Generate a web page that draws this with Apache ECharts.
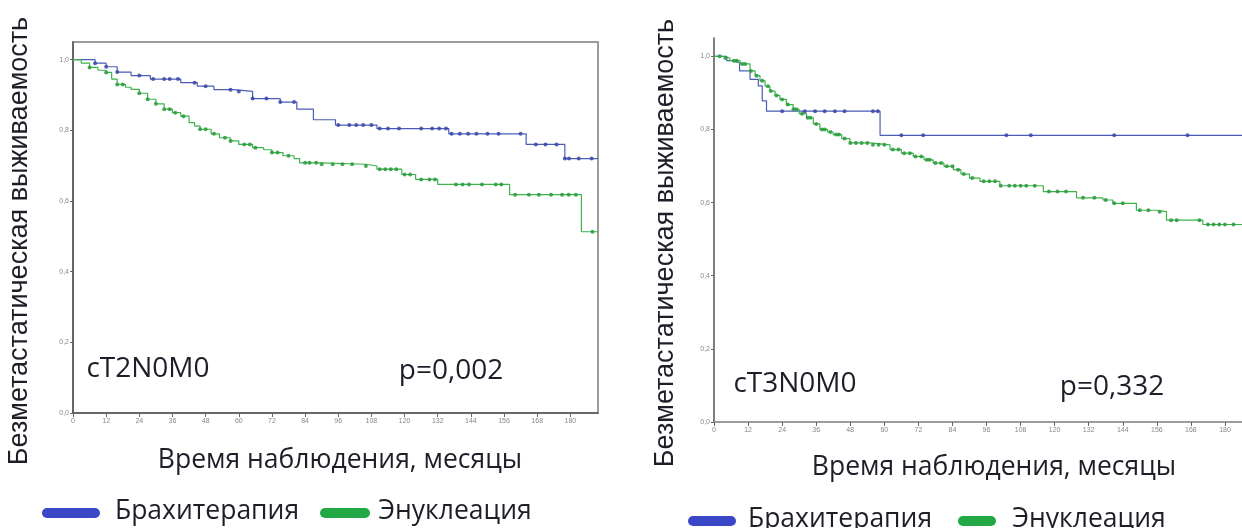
<!DOCTYPE html>
<html>
<head>
<meta charset="utf-8">
<script src="https://cdn.jsdelivr.net/npm/echarts@6/dist/echarts.min.js"></script>
<style>
html,body{margin:0;padding:0;background:#fff;}
#chart{width:1242px;height:528px;}
</style>
</head>
<body>
<div id="chart"></div>
<script>
// ---------- DATA ----------
const seriesNames = ['Брахитерапия', 'Энуклеация'];
const panelLabels = ['cT2N0M0', 'cT3N0M0'];
const pValues = ['p=0,002', 'p=0,332'];
const yTitle = 'Безметастатическая выживаемость';
const xTitle = 'Время наблюдения, месяцы';
const yTicks = [0, 0.2, 0.4, 0.6, 0.8, 1.0];
const xTickStep = 12;

// Panel 1 (cT2N0M0) – Brachytherapy
const t2BrachyT = [0, 8, 12, 16, 21, 28, 39, 45, 51, 58, 65, 75, 81, 87, 95, 110, 136, 164, 178, 190];
const t2BrachyS = [1.0, 0.99, 0.98, 0.965, 0.955, 0.945, 0.935, 0.925, 0.915, 0.91, 0.89, 0.88, 0.86, 0.83, 0.815, 0.805, 0.79, 0.76, 0.72, 0.72];
const t2BrachyCens = [8, 12, 16, 24, 29, 33, 35, 38, 44, 48, 57, 60, 65, 70, 75, 80, 96, 100, 102.5, 105, 108, 111, 114, 118, 126, 130, 132.5, 135, 137, 140, 143, 146, 150, 154, 162, 167.5, 171, 175, 178, 179.5, 183, 187.7];
// Panel 1 – Enucleation
const t2EnucT = [0, 3, 6, 9, 12, 14, 16, 19, 21, 24, 27, 30, 33, 36, 39, 42, 44, 46, 50, 53, 57, 60, 65, 69, 72, 76, 80, 82, 90, 106, 110, 119, 124, 132, 158, 184, 190];
const t2EnucS = [1.0, 0.99, 0.978, 0.97, 0.964, 0.945, 0.93, 0.922, 0.916, 0.905, 0.888, 0.875, 0.86, 0.85, 0.84, 0.822, 0.812, 0.803, 0.79, 0.779, 0.77, 0.76, 0.751, 0.745, 0.737, 0.728, 0.72, 0.708, 0.704, 0.699, 0.69, 0.675, 0.661, 0.647, 0.618, 0.513, 0.513];
const t2EnucCens = [6, 12, 16, 18, 24, 27, 30, 33, 35, 37, 40, 46, 48, 51, 55, 57, 62, 64, 66, 72, 74, 78, 84, 85.6, 88, 90, 94, 97.5, 101, 106, 111, 113, 115, 117, 120, 122, 126, 129, 131, 138.6, 141, 143.3, 148, 153, 155, 160, 165, 168.6, 173, 177, 179.4, 182, 188];

// Panel 2 (cT3N0M0) – Brachytherapy
const t3BrachyT = [0, 4.5, 6.2, 9, 12.7, 15.6, 17, 18.5, 58.5, 190];
const t3BrachyS = [1.0, 0.988, 0.983, 0.96, 0.937, 0.919, 0.878, 0.85, 0.784, 0.784];
const t3BrachyCens = [24, 32, 35.6, 39, 42.6, 46, 56, 57.7, 66, 73.7, 103, 111.6, 141, 166.8];
// Panel 2 – Enucleation
const t3EnucT = [0, 3, 5.6, 9.2, 12.7, 14.5, 16.2, 18, 19.7, 21.5, 23.2, 25.5, 27.9, 30, 32.6, 35, 37.3, 40, 42, 45, 47.9, 55, 62, 66, 70.2, 74, 77.2, 81, 84.3, 87, 90, 93.7, 100.7, 116, 127.7, 137, 140.5, 148.8, 155.9, 159.4, 172.2, 190];
const t3EnucS = [1.0, 0.995, 0.988, 0.979, 0.96, 0.947, 0.933, 0.918, 0.905, 0.893, 0.882, 0.868, 0.855, 0.843, 0.832, 0.815, 0.8, 0.793, 0.786, 0.775, 0.763, 0.758, 0.745, 0.735, 0.726, 0.717, 0.708, 0.699, 0.69, 0.678, 0.667, 0.658, 0.646, 0.63, 0.613, 0.607, 0.598, 0.579, 0.575, 0.552, 0.54, 0.54];
const t3EnucCens = [2, 4, 7, 8, 10, 11, 13, 15, 17, 19, 20, 22, 24, 26, 28, 29, 31, 33, 34, 36, 38, 39, 41, 43, 44, 46, 48, 50, 52, 54, 56, 58, 60, 63, 65, 67, 69, 71, 73, 75, 76, 78, 80, 82, 84, 86, 88, 91, 95, 97, 99, 101, 104, 106, 108, 110, 113, 118, 121, 124, 130, 134, 138, 141, 144, 150, 153, 157, 161, 163, 171, 174, 176, 178, 180, 183];

// ---------- BUILD ----------
const BLUE = '#4b5cb8', BLUE_D = '#3a48a8';
const GREEN = '#3cb44e', GREEN_D = '#2a9a3c';
const TXT = '#1e1e28';

function pairs(T, S) { return T.map((t, i) => [t, S[i]]); }
function censorPts(cens, T, S) {
  return cens.map(c => {
    let k = 0;
    for (let i = 0; i < T.length; i++) if (T[i] <= c) k = i;
    return [c, S[k]];
  });
}
const fmtY = v => (Math.abs(v - 1.05) < 1e-6 ? '' : v.toFixed(1).replace('.', ','));
const fmtX = v => (v % xTickStep === 0 && v <= 180 ? String(v) : '');

const grids = [
  { left: 73, top: 42, width: 525, height: 371, show: true, borderColor: '#9c9c9c', borderWidth: 2 },
  { left: 714, top: 38, right: 0, height: 384, show: false }
];

function xAx(gi, max) {
  return {
    type: 'value', gridIndex: gi, min: 0, max: max, interval: xTickStep,
    axisLine: { show: true, onZero: false, lineStyle: { color: '#555', width: 1.5 } },
    axisTick: { show: true, length: 4, lineStyle: { color: '#666' } },
    axisLabel: { fontSize: 7, color: '#888', margin: 5, formatter: fmtX, showMaxLabel: false, fontFamily: 'Liberation Sans' },
    splitLine: { show: false }
  };
}
function yAx(gi) {
  return {
    type: 'value', gridIndex: gi, min: 0, max: 1.05, interval: 0.2,
    axisLine: { show: true, lineStyle: { color: '#555', width: 1.5 } },
    axisTick: { show: true, length: 3, lineStyle: { color: '#666' } },
    axisLabel: { fontSize: 7, color: '#888', margin: 4, formatter: fmtY, showMaxLabel: false, fontFamily: 'Liberation Sans' },
    splitLine: { show: false }
  };
}
function kmLine(gi, T, S, color) {
  return {
    type: 'line', xAxisIndex: gi, yAxisIndex: gi, step: 'end',
    data: pairs(T, S), showSymbol: false, symbol: 'none',
    lineStyle: { color: color, width: 1.2 }, silent: true, z: 3
  };
}
function censor(gi, cens, T, S, color) {
  return {
    type: 'scatter', xAxisIndex: gi, yAxisIndex: gi,
    data: censorPts(cens, T, S), symbol: 'circle', symbolSize: 4,
    itemStyle: { color: color, opacity: 0.85 }, silent: true, z: 4
  };
}

function txt(x, y, text, size, family, extra) {
  return Object.assign({
    type: 'text', x: x, y: y, silent: true,
    style: { text: text, fontSize: size, fontFamily: family, fill: TXT,
      textAlign: 'center', textVerticalAlign: 'middle', align: 'center', verticalAlign: 'middle' }
  }, extra || {});
}
function pill(x, y, w, h, color) {
  return { type: 'rect', shape: { x: x, y: y - h / 2, width: w, height: h, r: h / 2 }, style: { fill: color }, silent: true };
}

const graphic = [
  txt(20, 241, yTitle, 27, 'Liberation Sans', { rotation: Math.PI / 2 }),
  txt(666, 243, yTitle, 27, 'Liberation Sans', { rotation: Math.PI / 2 }),
  txt(340, 460, xTitle, 26.5, 'Open Sans'),
  txt(994, 467, xTitle, 26.5, 'Open Sans'),
  txt(148, 369, panelLabels[0], 28, 'Open Sans'),
  txt(451, 371, pValues[0], 28, 'Open Sans'),
  txt(795, 384, panelLabels[1], 28, 'Open Sans'),
  txt(1112, 387, pValues[1], 28, 'Open Sans'),
  // legends
  pill(42, 513, 58, 10, '#3a48c8'),
  txt(207, 511, seriesNames[0], 26.5, 'Open Sans'),
  pill(320, 513, 50, 10, '#22a845'),
  txt(455, 511, seriesNames[1], 26.5, 'Open Sans'),
  pill(688, 521, 48, 10, '#3a48c8'),
  txt(840, 519, seriesNames[0], 26.5, 'Open Sans'),
  pill(958, 521, 38, 10, '#22a845'),
  txt(1089, 519, seriesNames[1], 26.5, 'Open Sans')
];

const option = {
  backgroundColor: '#fff',
  animation: false,
  grid: grids,
  xAxis: [
    xAx(0, 190),
    xAx(1, 186),
    { type: 'value', gridIndex: 1, position: 'top', min: 0, max: 186,
      axisLine: { show: true, lineStyle: { color: '#9c9c9c', width: 2 } },
      axisTick: { show: false }, axisLabel: { show: false }, splitLine: { show: false } }
  ],
  yAxis: [yAx(0), yAx(1)],
  series: [
    kmLine(0, t2BrachyT, t2BrachyS, BLUE),
    kmLine(0, t2EnucT, t2EnucS, GREEN),
    censor(0, t2BrachyCens, t2BrachyT, t2BrachyS, BLUE_D),
    censor(0, t2EnucCens, t2EnucT, t2EnucS, GREEN_D),
    kmLine(1, t3BrachyT, t3BrachyS, BLUE),
    kmLine(1, t3EnucT, t3EnucS, GREEN),
    censor(1, t3BrachyCens, t3BrachyT, t3BrachyS, BLUE_D),
    censor(1, t3EnucCens, t3EnucT, t3EnucS, GREEN_D)
  ],
  graphic: graphic
};

const chart = echarts.init(document.getElementById('chart'), null, { renderer: 'canvas' });
chart.setOption(option);
</script>
</body>
</html>
